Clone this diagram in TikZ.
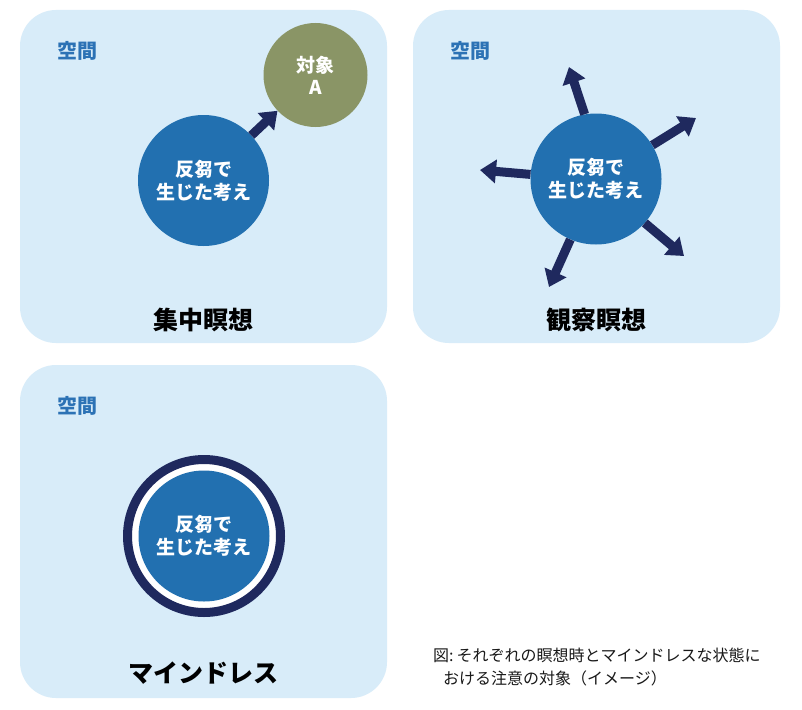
\documentclass[tikz,border=0pt]{standalone}
\usepackage{fontspec}
\setmainfont{Noto Sans CJK JP}
\usetikzlibrary{arrows.meta,positioning}
\definecolor{panelbg}{HTML}{D8ECF9}
\definecolor{thought}{HTML}{2270B0}
\definecolor{navy}{HTML}{1F295E}
\definecolor{olive}{HTML}{8A9566}
\definecolor{spaceblue}{HTML}{2C72B5}

\begin{document}
\begin{tikzpicture}[
  x=1pt, y=-1pt,
  panel/.style={fill=panelbg, rounded corners=36pt, minimum width=367pt, minimum height=333pt, inner sep=0pt},
  spacelbl/.style={font=\bfseries\fontsize{20}{22}\selectfont, text=spaceblue, inner sep=0pt},
  paneltitle/.style={font=\bfseries\fontsize{25}{28}\selectfont, inner sep=0pt},
  thoughtc/.style={circle, fill=thought, minimum size=131pt, inner sep=0pt, text=white, align=center, font=\bfseries\fontsize{19}{23}\selectfont},
  objc/.style={circle, fill=olive, minimum size=104pt, inner sep=0pt, text=white, align=center, font=\bfseries\fontsize{19}{22}\selectfont},
  ringc/.style={circle, draw=navy, line width=9pt, fill=white, minimum size=153pt, inner sep=0pt},
  bigarr/.style={-{Triangle[length=16pt,width=23pt]}, line width=9pt, draw=navy}
]
\useasboundingbox[fill=white] (0,0) rectangle (802,709);

% panels
\node[panel] (p1) at (203.5,176.5) {};
\node[panel] (p2) at (596.5,176.5) {};
\node[panel] (p3) at (203.5,531.5) {};

\node[spacelbl] (s1) at (77,51) {空間};
\node[spacelbl] (s2) at (470,51) {空間};
\node[spacelbl] (s3) at (77,406) {空間};

% concentration
\node[thoughtc] (c1) at (203.5,180.5) {反芻で\\生じた考え};
\node[objc] (objA) at (315.5,75) {対象\\A};
\draw[bigarr] (c1) -- (objA);
\node[paneltitle] (n1) at (203.5,320) {集中瞑想};

% observation
\node[thoughtc] (c2) at (596,179) {反芻で\\生じた考え};
\coordinate (t1) at (569,67);
\coordinate (t2) at (696,118);
\coordinate (t3) at (480,170);
\coordinate (t4) at (684,256);
\coordinate (t5) at (549,287);
\draw[bigarr] (c2.100) -- (t1);
\draw[bigarr] (c2.31) -- (t2);
\draw[bigarr] (c2.176) -- (t3);
\draw[bigarr] (c2.-42) -- (t4);
\draw[bigarr] (c2.-113) -- (t5);
\node[paneltitle] (n2) at (596.5,320) {観察瞑想};

% mindless
\node[ringc] (r3) at (204,536) {};
\node[thoughtc] (c3) at (204,536) {反芻で\\生じた考え};
\node[paneltitle] (n3) at (203.5,673) {マインドレス};

\node[anchor=west, align=left, inner sep=0pt, text=black!90, font=\fontsize{16}{23}\selectfont] (cap) at (433,666.5)
  {図:\hspace{3pt}それぞれの瞑想時とマインドレスな状態に\\\hspace{10pt}おける注意の対象（イメージ）};
\end{tikzpicture}
\end{document}
